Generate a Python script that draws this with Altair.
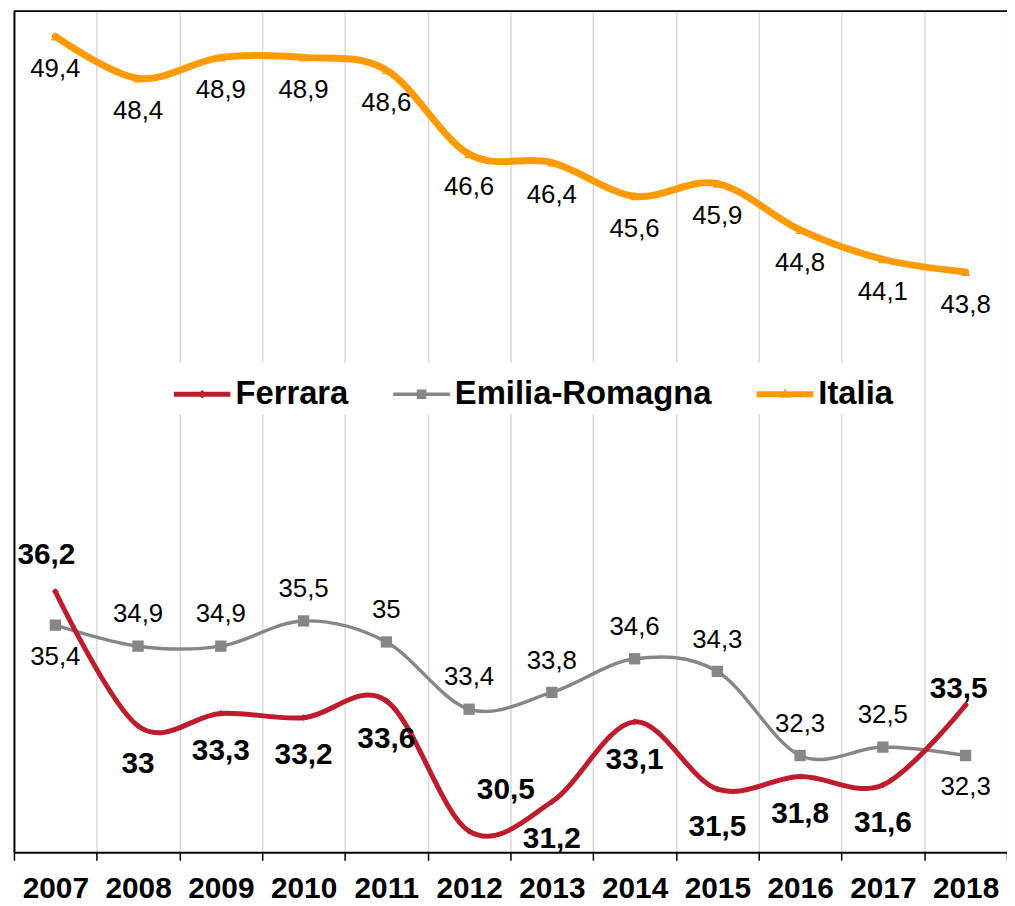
import altair as alt
import pandas as pd

# ---------------- data ----------------
years = [2007, 2008, 2009, 2010, 2011, 2012, 2013, 2014, 2015, 2016, 2017, 2018]
series_names = ["Ferrara", "Emilia-Romagna", "Italia"]
ferrara = [36.2, 33.0, 33.3, 33.2, 33.6, 30.5, 31.2, 33.1, 31.5, 31.8, 31.6, 33.5]
emilia_romagna = [35.4, 34.9, 34.9, 35.5, 35.0, 33.4, 33.8, 34.6, 34.3, 32.3, 32.5, 32.3]
italia = [49.4, 48.4, 48.9, 48.9, 48.6, 46.6, 46.4, 45.6, 45.9, 44.8, 44.1, 43.8]

# where each data label sits relative to its point
ferrara_label_pos = ["upleft", "below", "below", "below", "below", "upright",
                     "below", "below", "below", "below", "below", "up"]
er_label_pos = ["below", "above", "above", "above", "above", "above",
                "above", "above", "above", "above", "above", "below"]
italia_label_pos = ["below"] * 12


def fmt(v):
    return f"{v:g}".replace(".", ",")


rows = []
for name, vals, poss in [("Ferrara", ferrara, ferrara_label_pos),
                         ("Emilia-Romagna", emilia_romagna, er_label_pos),
                         ("Italia", italia, italia_label_pos)]:
    for yr, v, p in zip(years, vals, poss):
        rows.append(dict(series=name, year=str(yr), value=v, label=fmt(v), pos=p))
df = pd.DataFrame(rows)

# ---------------- styles ----------------
FONT = "Liberation Sans"
colors = {"Ferrara": "#BE1B2C", "Emilia-Romagna": "#868686", "Italia": "#FF9A00"}
line_widths = {"Ferrara": 5, "Emilia-Romagna": 3.5, "Italia": 7}
marker_shapes = {"Ferrara": "diamond", "Emilia-Romagna": "square", "Italia": "triangle-up"}
marker_sizes = {"Ferrara": 45, "Emilia-Romagna": 130, "Italia": 90}
label_font = {"Ferrara": (30, "bold"), "Emilia-Romagna": (26, "normal"), "Italia": (26, "normal")}
label_offsets = {
    ("Ferrara", "below"): (0, 38),
    ("Ferrara", "upleft"): (-9, -37),
    ("Ferrara", "upright"): (37, -41),
    ("Ferrara", "up"): (-7, -16),
    ("Emilia-Romagna", "above"): (0, -32),
    ("Emilia-Romagna", "below"): (0, 32),
    ("Italia", "below"): (0, 33),
}
legend_paths = [
    "M-1,-0.088H1V0.088H-1Z M0,-0.15L0.15,0L0,0.15L-0.15,0Z",
    "M-1,-0.06H1V0.06H-1Z M-0.17,-0.17H0.17V0.17H-0.17Z",
    "M-1,-0.105H1V0.105H-1Z M0,-0.2L0.18,0.13H-0.18Z",
]

x_enc = alt.X(
    "year:O",
    scale=alt.Scale(type="band", paddingInner=0, paddingOuter=0),
    axis=alt.Axis(
        title=None, labelAngle=0, labelFont=FONT, labelFontSize=30,
        labelFontWeight="bold", labelColor="black", labelBaseline="alphabetic",
        labelPadding=38, tickBand="extent", ticks=True, tickSize=8,
        tickColor="black", tickWidth=1.5, domainColor="black", domainWidth=2,
        grid=True, gridColor="#d9d9d9", gridWidth=1.5,
    ),
)
y_enc = alt.Y(
    "value:Q",
    scale=alt.Scale(domain=[30, 50], nice=False, zero=False),
    axis=alt.Axis(title=None, labels=False, ticks=False, grid=False,
                  domainColor="black", domainWidth=2),
)

base = alt.Chart(df)
layers = []

# top border of the plot area (at the top of the value scale)
layers.append(
    alt.Chart(pd.DataFrame({"value": [50]}))
    .mark_rule(color="black", strokeWidth=2)
    .encode(y=y_enc)
)

draw_order = ["Italia", "Emilia-Romagna", "Ferrara"]
for s in draw_order:
    sub = base.transform_filter(alt.datum.series == s)
    layers.append(
        sub.mark_line(interpolate="cardinal", tension=0, color=colors[s],
                      strokeWidth=line_widths[s], strokeCap="round")
        .encode(x=x_enc, y=y_enc)
    )
    layers.append(
        sub.mark_point(shape=marker_shapes[s], filled=True, opacity=1,
                       color=colors[s], size=marker_sizes[s])
        .encode(x=x_enc, y=y_enc)
    )

for (s, p), (dx, dy) in label_offsets.items():
    fs, fw = label_font[s]
    layers.append(
        base.transform_filter((alt.datum.series == s) & (alt.datum.pos == p))
        .mark_text(dx=dx, dy=dy, font=FONT, fontSize=fs, fontWeight=fw,
                   color="black", align="center", baseline="middle")
        .encode(x=x_enc, y=y_enc, text="label:N")
    )

legend = alt.Legend(
    title=None, orient="none", legendX=158, legendY=354, direction="horizontal",
    fillColor="white", padding=3, labelFont=FONT, labelFontSize=33,
    labelFontWeight="bold", labelColor="black", labelOffset=5, labelLimit=500,
    columnPadding=45, symbolSize=3249, symbolStrokeWidth=0, symbolOpacity=1,
)
layers.append(
    base.mark_point(filled=True, opacity=0)
    .encode(
        x=x_enc, y=y_enc,
        color=alt.Color("series:N", sort=series_names,
                        scale=alt.Scale(domain=series_names,
                                        range=[colors[s] for s in series_names]),
                        legend=legend),
        shape=alt.Shape("series:N", sort=series_names,
                        scale=alt.Scale(domain=series_names, range=legend_paths),
                        legend=legend),
    )
)

chart = (
    alt.layer(*layers)
    .properties(
        width=1000, height=847,
        padding={"left": 6, "top": 0, "right": 0, "bottom": 50},
        autosize=alt.AutoSizeParams(type="none"),
        background="white",
    )
    .configure_view(stroke=None)
)

chart.save("out.html", embed_options={"renderer": "svg", "actions": False})
